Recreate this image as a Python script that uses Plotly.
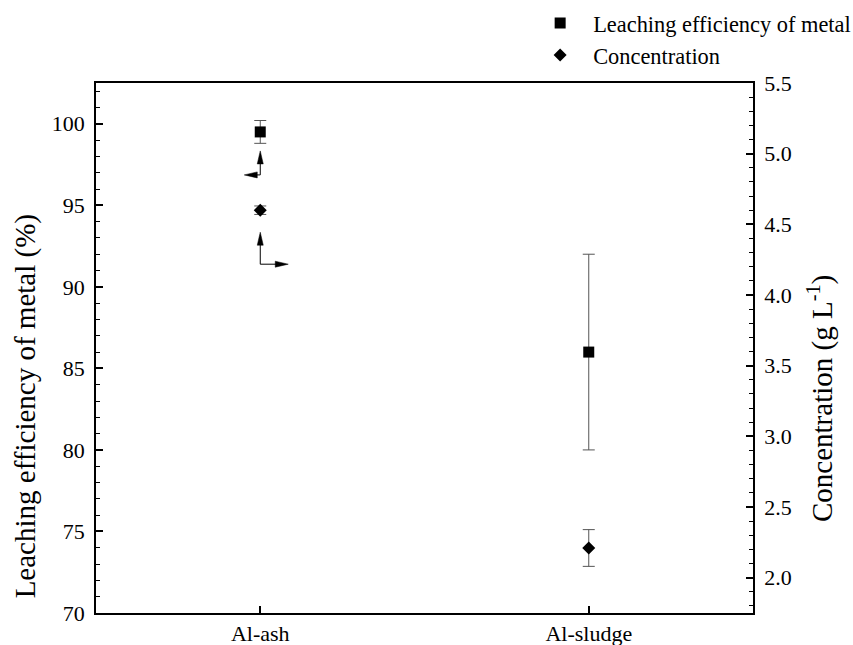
import plotly.graph_objects as go

# Samples and measured values
samples = ["Al-ash", "Al-sludge"]
efficiency = [99.5, 86.0]          # leaching efficiency of metal (%)
efficiency_err = [0.7, 6.0]
concentration = [4.6, 2.21]        # concentration (g L-1)
concentration_err = [0.03, 0.13]

FONT = "Liberation Serif"
x_pos = list(range(len(samples)))

fig = go.Figure()

fig.add_trace(go.Scatter(
    x=x_pos, y=efficiency, mode="markers", name="Leaching efficiency of metal",
    marker=dict(symbol="square", size=11, color="black"),
    error_y=dict(type="data", array=efficiency_err, color="#555555", thickness=1, width=6),
    yaxis="y",
))
fig.add_trace(go.Scatter(
    x=x_pos, y=concentration, mode="markers", name="Concentration",
    marker=dict(symbol="diamond", size=10, color="black"),
    error_y=dict(type="data", array=concentration_err, color="#555555", thickness=1, width=6),
    yaxis="y2",
))

# L-shaped arrows pointing from each Al-ash marker toward its own axis
def add_axis_arrow(xa, ya, yref, lines_path, heads_path):
    common = dict(xref="x", yref=yref, xsizemode="pixel", ysizemode="pixel",
                  xanchor=xa, yanchor=ya, layer="above")
    fig.add_shape(type="path", path=lines_path, line=dict(color="black", width=1), **common)
    fig.add_shape(type="path", path=heads_path, fillcolor="black",
                  line=dict(color="black", width=0.5), **common)

add_axis_arrow(x_pos[0], efficiency[0], "y",
               "M0,-43 V-31 M0,-43 H-4",
               "M0,-19 L-3,-32 L3,-32 Z M-16,-43 L-3,-40 L-3,-46 Z")
add_axis_arrow(x_pos[0], concentration[0], "y2",
               "M0,-54 V-34 M0,-54 H16",
               "M0,-22 L-3,-35 L3,-35 Z M28,-54 L15,-51 L15,-57 Z")

# Axis titles as rotated annotations
fig.add_annotation(text="Leaching efficiency of metal (%)", textangle=-90,
                   xref="paper", yref="paper", x=-0.108, y=0.39,
                   xanchor="center", yanchor="middle", showarrow=False,
                   font=dict(family=FONT, size=29, color="black"))
fig.add_annotation(text="Concentration (g L<sup>-1</sup>)", textangle=-90,
                   xref="paper", yref="paper", x=1.103, y=0.405,
                   xanchor="center", yanchor="middle", showarrow=False,
                   font=dict(family=FONT, size=29, color="black"))

fig.update_layout(
    width=853, height=645,
    margin=dict(l=96, r=100, t=83, b=32, autoexpand=False),
    paper_bgcolor="white", plot_bgcolor="white",
    font=dict(family=FONT, size=22, color="black"),
    showlegend=True,
    legend=dict(xref="container", yref="container", x=0.618, y=0.997,
                xanchor="left", yanchor="top", itemwidth=56,
                font=dict(family=FONT, size=22.4, color="black"),
                bgcolor="rgba(0,0,0,0)", tracegroupgap=0),
    xaxis=dict(
        range=[-0.5, 1.5], tickvals=x_pos, ticktext=samples,
        showline=True, linecolor="black", linewidth=1.5, mirror=True,
        ticks="inside", ticklen=7, tickwidth=1.5, tickcolor="black",
        showgrid=False, zeroline=False,
        tickfont=dict(family=FONT, size=22),
    ),
    yaxis=dict(
        range=[70, 102.5], dtick=5, tick0=70,
        showline=True, linecolor="black", linewidth=1.5,
        ticks="inside", ticklen=7, tickwidth=1.5, tickcolor="black",
        minor=dict(dtick=1, ticks="inside", ticklen=4, tickwidth=1, tickcolor="black"),
        showgrid=False, zeroline=False, ticklabelstandoff=5,
        tickfont=dict(family=FONT, size=22),
    ),
    yaxis2=dict(
        range=[1.75, 5.5], dtick=0.5, tick0=2.0, tickformat=".1f",
        overlaying="y", side="right",
        showline=True, linecolor="black", linewidth=1.5,
        ticks="inside", ticklen=7, tickwidth=1.5, tickcolor="black",
        minor=dict(dtick=0.1, ticks="inside", ticklen=4, tickwidth=1, tickcolor="black"),
        showgrid=False, zeroline=False, ticklabelstandoff=5,
        tickfont=dict(family=FONT, size=22),
    ),
)

fig.write_html("out.html")
